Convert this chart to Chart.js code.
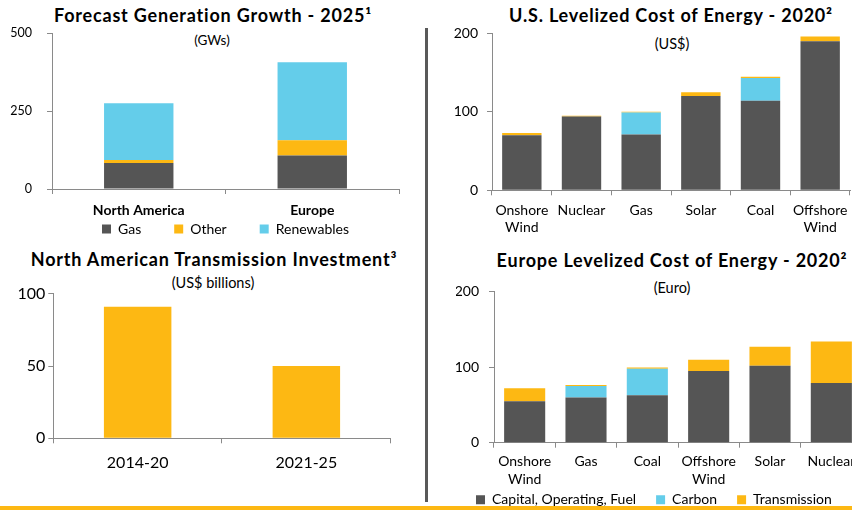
<!DOCTYPE html>
<html>
<head>
<meta charset="utf-8">
<script src="https://cdn.jsdelivr.net/npm/chart.js@4.4.1/dist/chart.umd.min.js"></script>
<style>
  body { margin: 0; width: 852px; height: 510px; overflow: hidden; background: #fff; position: relative; font-family: Lato, sans-serif; }
  canvas { position: absolute; }
  .title { position: absolute; font-weight: bold; font-size: 18px; letter-spacing: 0.8px; color: #000; white-space: nowrap; transform: translate(-50%, -50%); }
  .sub { position: absolute; font-size: 14.5px; color: #000; white-space: nowrap; transform: translate(-50%, -50%); }
  #divider { position: absolute; left: 425px; top: 28px; width: 3px; height: 474px; background: #595959; }
  #baseline { position: absolute; left: 0; top: 506px; width: 852px; height: 4px; background: #fdb813; z-index: 5; }
</style>
</head>
<body>
<div class="title" style="left:213px; top:15px">Forecast Generation Growth - 2025¹</div>
<div class="sub" style="left:212px; top:40px; font-size:13.5px">(GWs)</div>
<div class="title" style="left:671px; top:15px">U.S. Levelized Cost of Energy - 2020²</div>
<div class="sub" style="left:672px; top:43px">(US$)</div>
<div class="title" style="left:214px; top:259px">North American Transmission Investment³</div>
<div class="sub" style="left:213px; top:282px">(US$ billions)</div>
<div class="title" style="left:672px; top:260px">Europe Levelized Cost of Energy - 2020²</div>
<div class="sub" style="left:672px; top:287px">(Euro)</div>

<canvas id="genChart" style="left:0; top:10px" width="426" height="236"></canvas>
<canvas id="usChart" style="left:430px; top:15px" width="424" height="230"></canvas>
<canvas id="txChart" style="left:0; top:275px" width="426" height="235"></canvas>
<canvas id="euChart" style="left:456px; top:273px" width="440" height="244"></canvas>
<div id="divider"></div>
<div id="baseline"></div>

<script>
// Forecast generation growth - 2025 (GWs)
const genRegions = ['North America', 'Europe'];
const genGas = [83, 107];
const genOther = [10, 49];
const genRenewables = [182, 250];

// U.S. levelized cost of energy - 2020 (US$)
const usTech = [['Onshore', 'Wind'], 'Nuclear', 'Gas', 'Solar', 'Coal', ['Offshore', 'Wind']];
const usCapital = [70, 94, 71, 120, 114, 190];
const usCarbon = [0, 0, 28, 0, 29, 0];
const usTransmission = [3, 1, 1, 5, 1.5, 6];

// North American transmission investment (US$ billions)
const txPeriods = ['2014-20', '2021-25'];
const txInvestment = [91, 50];

// Europe levelized cost of energy - 2020 (Euro)
const euTech = [['Onshore', 'Wind'], 'Gas', 'Coal', ['Offshore', 'Wind'], 'Solar', 'Nuclear'];
const euCapital = [55, 60, 63, 95, 102, 79];
const euCarbon = [0, 15, 35, 0, 0, 0];
const euTransmission = [17, 1.5, 1.5, 15, 25, 55];

const GREY = '#555555';
const CYAN = '#64cdea';
const GOLD = '#fdb813';
const AXIS = '#8a8a8a';

Chart.defaults.font.family = 'Lato';
Chart.defaults.color = '#000';
Chart.defaults.animation = false;

// shared axis setup, only sizes differ per chart
function axes(o) {
    return {
        x: {
            stacked: true,
            grid: { drawOnChartArea: false, tickLength: 5, color: AXIS },
            border: { color: AXIS },
            // mirror keeps labels from being clipped to the (squeezed) axis box
            ticks: { font: o.xFont, padding: o.xPad, mirror: !!o.xMirror, maxRotation: 0, autoSkip: false },
            afterFit: s => { s.height = o.xHeight; }
        },
        y: {
            stacked: true,
            min: 0,
            max: o.max,
            ticks: { stepSize: o.step, font: o.yFont, padding: o.yPad },
            grid: { drawOnChartArea: false, tickLength: 5, color: AXIS },
            border: { color: AXIS },
            afterFit: s => { s.width = o.yWidth; }
        }
    };
}

function bars(label, data, color, pct) {
    return { label, data, backgroundColor: color, borderWidth: 0, barPercentage: pct, categoryPercentage: 1 };
}

new Chart(document.getElementById('genChart'), {
    type: 'bar',
    data: {
        labels: genRegions,
        datasets: [
            bars('Gas', genGas, GREY, 0.4),
            bars('Other', genOther, GOLD, 0.4),
            bars('Renewables', genRenewables, CYAN, 0.4)
        ]
    },
    options: {
        responsive: false,
        layout: { padding: { top: 23, right: 27, left: 0, bottom: 0 } },
        plugins: {
            legend: {
                position: 'bottom',
                fullSize: false,
                labels: { boxWidth: 9, boxHeight: 9, padding: 33, font: { size: 14 } }
            },
            tooltip: { enabled: false }
        },
        scales: axes({ max: 500, step: 250, yWidth: 52, yPad: 15, yFont: { size: 12.5 },
                       xHeight: 0, xPad: -29.4, xMirror: true, xFont: { size: 14, weight: 'bold' } })
    }
});

new Chart(document.getElementById('usChart'), {
    type: 'bar',
    data: {
        labels: usTech,
        datasets: [
            bars('Capital, Operating, Fuel', usCapital, GREY, 0.66),
            bars('Carbon', usCarbon, CYAN, 0.66),
            bars('Transmission', usTransmission, GOLD, 0.66)
        ]
    },
    options: {
        responsive: false,
        layout: { padding: { top: 18.3, right: 4, left: 0, bottom: 4.7 } },
        plugins: { legend: { display: false }, tooltip: { enabled: false } },
        scales: axes({ max: 200, step: 100, yWidth: 62, yPad: 9, yFont: { size: 14 },
                       xHeight: 50, xPad: 6, xFont: { size: 14, lineHeight: 1.27 } })
    }
});

new Chart(document.getElementById('txChart'), {
    type: 'bar',
    data: {
        labels: txPeriods,
        datasets: [bars('Investment', txInvestment, GOLD, 0.4)]
    },
    options: {
        responsive: false,
        layout: { padding: { top: 18.7, right: 35.3, left: 0, bottom: 31.7 } },
        plugins: { legend: { display: false }, tooltip: { enabled: false } },
        scales: axes({ max: 100, step: 50, yWidth: 53.3, yPad: 3, yFont: { size: 16 },
                       xHeight: 40, xPad: 10, xFont: { size: 16 } })
    }
});

new Chart(document.getElementById('euChart'), {
    type: 'bar',
    data: {
        labels: euTech,
        datasets: [
            bars('Capital, Operating, Fuel', euCapital, GREY, 0.67),
            bars('Carbon', euCarbon, CYAN, 0.67),
            bars('Transmission', euTransmission, GOLD, 0.67)
        ]
    },
    options: {
        responsive: false,
        layout: { padding: { top: 18.7, right: 34, left: 0, bottom: 0.3 } },
        plugins: {
            legend: {
                position: 'bottom',
                align: 'start',
                labels: { boxWidth: 9, boxHeight: 9, padding: 20, font: { size: 14 } }
            },
            tooltip: { enabled: false }
        },
        scales: axes({ max: 200, step: 100, yWidth: 38, yPad: 10, yFont: { size: 14 },
                       xHeight: 30, xPad: -27.9, xMirror: true, xFont: { size: 14, lineHeight: 1.27 } })
    }
});
</script>
</body>
</html>
